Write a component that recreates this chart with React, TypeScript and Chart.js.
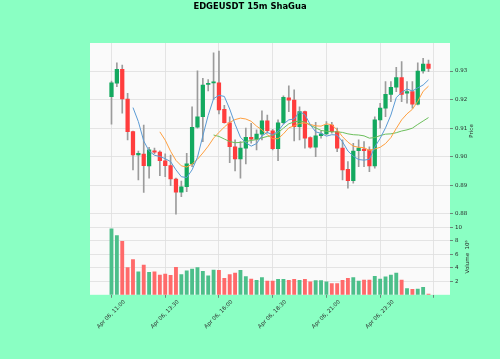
import React, { useEffect, useRef } from 'react';
import { Chart, registerables } from 'chart.js';

Chart.register(...registerables);

const title = 'EDGEUSDT 15m ShaGua';
const tickIndex = [0, 10, 20, 30, 40, 50, 60];
const tickLabels = ['Apr 06, 11:00', 'Apr 06, 13:30', 'Apr 06, 16:00', 'Apr 06, 18:30', 'Apr 06, 21:00', 'Apr 06, 23:30', ''];
const priceTicks = [0.88, 0.89, 0.9, 0.91, 0.92, 0.93];
const volumeTicks = [2, 4, 6, 8, 10];

const opens = [
  0.9210, 0.9257, 0.9306, 0.9202, 0.9088, 0.9006, 0.9009, 0.8968, 0.9021, 0.9016,
  0.8986, 0.8969, 0.8922, 0.8876, 0.8895, 0.8975, 0.9103, 0.9140, 0.9253, 0.9258,
  0.9259, 0.9166, 0.9119, 0.9035, 0.8992, 0.9030, 0.9068, 0.9061, 0.9079, 0.9126,
  0.9091, 0.9028, 0.9119, 0.9206, 0.9198, 0.9105, 0.9158, 0.9067, 0.9033, 0.9074,
  0.9080, 0.9111, 0.9088, 0.9030, 0.8956, 0.8916, 0.9021, 0.9027, 0.9024, 0.8968,
  0.9129, 0.9170, 0.9218, 0.9243, 0.9277, 0.9222, 0.9228, 0.9184, 0.9300, 0.9324,
];
const highs = [
  0.9265, 0.9329, 0.9321, 0.9222, 0.9090, 0.9020, 0.9111, 0.9033, 0.9030, 0.9021,
  0.9010, 0.9006, 0.8925, 0.8915, 0.9012, 0.9175, 0.9301, 0.9274, 0.9270, 0.9364,
  0.9370, 0.9180, 0.9140, 0.9059, 0.9053, 0.9100, 0.9117, 0.9094, 0.9161, 0.9146,
  0.9096, 0.9129, 0.9213, 0.9248, 0.9234, 0.9175, 0.9160, 0.9070, 0.9120, 0.9090,
  0.9123, 0.9120, 0.9100, 0.9059, 0.8983, 0.9047, 0.9059, 0.9053, 0.9035, 0.9140,
  0.9187, 0.9263, 0.9263, 0.9313, 0.9333, 0.9263, 0.9263, 0.9329, 0.9344, 0.9338,
];
const lows = [
  0.9114, 0.9245, 0.9152, 0.9059, 0.8954, 0.8919, 0.8875, 0.8925, 0.9010, 0.8934,
  0.8930, 0.8899, 0.8799, 0.8860, 0.8878, 0.8965, 0.9100, 0.9053, 0.9230, 0.9200,
  0.9150, 0.9117, 0.8979, 0.8950, 0.8925, 0.8975, 0.9047, 0.9024, 0.9059, 0.9082,
  0.9024, 0.8986, 0.9115, 0.9158, 0.9055, 0.9059, 0.9030, 0.9030, 0.9000, 0.9065,
  0.9076, 0.9082, 0.9018, 0.8919, 0.8890, 0.8907, 0.8965, 0.8965, 0.8948, 0.8960,
  0.9100, 0.9140, 0.9193, 0.9228, 0.9193, 0.9187, 0.9170, 0.9181, 0.9292, 0.9298,
];
const closes = [
  0.9259, 0.9306, 0.9202, 0.9088, 0.9006, 0.9012, 0.8969, 0.9024, 0.9016, 0.8986,
  0.8969, 0.8922, 0.8876, 0.8895, 0.8975, 0.9103, 0.9140, 0.9251, 0.9257, 0.9262,
  0.9164, 0.9119, 0.9035, 0.8992, 0.9030, 0.9068, 0.9061, 0.9079, 0.9126, 0.9091,
  0.9028, 0.9119, 0.9208, 0.9198, 0.9105, 0.9158, 0.9065, 0.9033, 0.9073, 0.9080,
  0.9110, 0.9088, 0.9030, 0.8954, 0.8916, 0.9020, 0.9030, 0.9021, 0.8968, 0.9129,
  0.9170, 0.9218, 0.9243, 0.9277, 0.9218, 0.9228, 0.9184, 0.9300, 0.9324, 0.9309,
];
// volume in millions
const volumes = [
  9.75, 8.76, 7.92, 4.02, 5.2, 3.38, 4.41, 3.33, 3.38, 2.93,
  3.08, 2.88, 4.07, 2.98, 3.53, 3.82, 4.02, 3.48, 2.79, 3.67,
  3.63, 2.44, 2.98, 3.23, 3.63, 2.68, 2.34, 2.15, 2.53, 2.04,
  2.04, 2.3, 2.3, 2.15, 2.29, 2.15, 2.29, 1.9, 2.09, 2.09,
  1.9, 1.65, 1.65, 2.15, 2.44, 2.54, 2.04, 2.19, 2.19, 2.74,
  2.34, 2.64, 2.93, 3.23, 2.19, 0.91, 0.81, 0.86, 1.11, 0.12,
];
const ma5 = [
  null, null, null, null,
  0.9172, 0.9123, 0.9055, 0.9020, 0.9005, 0.9001, 0.8993, 0.8983, 0.8954, 0.8930,
  0.8927, 0.8954, 0.8998, 0.9073, 0.9145, 0.9203, 0.9215, 0.9211, 0.9167, 0.9114,
  0.9068, 0.9049, 0.9037, 0.9046, 0.9073, 0.9085, 0.9077, 0.9089, 0.9114, 0.9129,
  0.9132, 0.9158, 0.9147, 0.9112, 0.9087, 0.9082, 0.9072, 0.9077, 0.9076, 0.9052,
  0.9020, 0.9002, 0.8990, 0.8988, 0.8991, 0.9034, 0.9064, 0.9101, 0.9146, 0.9207,
  0.9225, 0.9237, 0.9230, 0.9241, 0.9251, 0.9269,
];
const ma10 = [
  null, null, null, null, null, null, null, null, null,
  0.9087, 0.9058, 0.9019, 0.8987, 0.8968, 0.8964, 0.8974, 0.8991, 0.9013, 0.9037,
  0.9065, 0.9085, 0.9104, 0.9120, 0.9130, 0.9135, 0.9132, 0.9124, 0.9107, 0.9094,
  0.9077, 0.9063, 0.9063, 0.9080, 0.9101, 0.9108, 0.9117, 0.9118, 0.9113, 0.9108,
  0.9107, 0.9115, 0.9112, 0.9094, 0.9070, 0.9051, 0.9037, 0.9033, 0.9032, 0.9022,
  0.9027, 0.9033, 0.9046, 0.9067, 0.9099, 0.9129, 0.9150, 0.9166, 0.9194, 0.9229,
  0.9247,
];
const ma20 = [
  null, null, null, null, null, null, null, null, null, null,
  null, null, null, null, null, null, null, null, null,
  0.9076, 0.9071, 0.9062, 0.9053, 0.9049, 0.9050, 0.9053, 0.9057, 0.9060, 0.9066,
  0.9071, 0.9074, 0.9084, 0.9100, 0.9115, 0.9122, 0.9125, 0.9121, 0.9110, 0.9101,
  0.9092, 0.9089, 0.9087, 0.9087, 0.9085, 0.9080, 0.9077, 0.9076, 0.9073, 0.9065,
  0.9067, 0.9074, 0.9079, 0.9080, 0.9084, 0.9090, 0.9094, 0.9100, 0.9113, 0.9125,
  0.9137,
];

const FONT = 'DejaVu Sans';
const BG = '#8affc3';
const PANEL = '#fafafa';
const GRID = '#dedede';
const UP = '#13a95f';
const DOWN = '#ff3d3d';
const VOL_UP = '#4cbf8a';
const VOL_DOWN = '#ff6a6a';
const WICK = '#9c9c9c';
const TEXT = '#2a2a2a';

export default function App() {
  const ref = useRef<HTMLCanvasElement | null>(null);

  useEffect(() => {
    document.body.style.margin = '0';
    document.body.style.background = BG;
    const canvas = ref.current;
    if (!canvas) return;
    const idx = closes.map((_, i) => i);
    const up = closes.map((c, i) => c >= opens[i]);

    const bgPlugin = {
      id: 'bgPanel',
      beforeDraw(chart: any) {
        const { ctx, chartArea: a, width, height } = chart;
        ctx.save();
        ctx.fillStyle = BG;
        ctx.fillRect(0, 0, width, height);
        ctx.fillStyle = PANEL;
        ctx.fillRect(a.left, a.top, a.right - a.left, a.bottom - a.top);
        ctx.restore();
      },
    };
    const textPlugin = {
      id: 'texts',
      afterDraw(chart: any) {
        const { ctx, width } = chart;
        const y = chart.scales.y;
        const yv = chart.scales.yv;
        ctx.save();
        ctx.fillStyle = '#000';
        ctx.font = `bold 8.4px "${FONT}"`;
        ctx.textAlign = 'center';
        ctx.textBaseline = 'middle';
        ctx.fillText(title, width / 2, 6.8);
        ctx.restore();

        ctx.save();
        ctx.fillStyle = TEXT;
        ctx.font = `5.5px "${FONT}"`;
        ctx.textAlign = 'center';
        ctx.textBaseline = 'middle';
        ctx.translate(y.left + 21.7, (y.top + y.bottom) / 2);
        ctx.rotate(-Math.PI / 2);
        ctx.fillText('Price', 0, 0);
        ctx.restore();

        ctx.save();
        ctx.fillStyle = TEXT;
        ctx.font = `5.5px "${FONT}"`;
        ctx.textAlign = 'center';
        ctx.textBaseline = 'middle';
        ctx.translate(yv.left + 17.3, (yv.top + yv.bottom) / 2);
        ctx.rotate(-Math.PI / 2);
        ctx.fillText('Volume  10\u2076', 0, 0);
        ctx.restore();
      },
    };

    const lineDs = (label: string, arr: (number | null)[], color: string) => ({
      type: 'line' as const,
      label,
      data: idx.filter((i) => arr[i] != null).map((i) => ({ x: i, y: arr[i] })),
      yAxisID: 'y',
      borderColor: color,
      borderWidth: 1,
      pointRadius: 0,
      tension: 0,
      fill: false,
      order: 0,
    });

    const chart = new Chart(canvas, {
      type: 'bar',
      data: {
        datasets: [
          lineDs('MA5', ma5, '#5b9bd5'),
          lineDs('MA10', ma10, '#ffa040'),
          lineDs('MA20', ma20, '#6cbf5c'),
          {
            type: 'bar',
            label: 'Body',
            data: idx.map((i) => ({ x: i, y: [opens[i], closes[i]] })),
            yAxisID: 'y',
            backgroundColor: up.map((u) => (u ? UP : DOWN)),
            barThickness: 3.6,
            grouped: false,
            borderWidth: 0,
            borderSkipped: false,
            order: 2,
          } as any,
          {
            type: 'bar',
            label: 'Wick',
            data: idx.map((i) => ({ x: i, y: [lows[i], highs[i]] })),
            yAxisID: 'y',
            backgroundColor: WICK,
            barThickness: 1,
            grouped: false,
            borderWidth: 0,
            borderSkipped: false,
            order: 3,
          } as any,
          {
            type: 'bar',
            label: 'Volume',
            data: idx.map((i) => ({ x: i, y: volumes[i] })),
            yAxisID: 'yv',
            backgroundColor: up.map((u) => (u ? VOL_UP : VOL_DOWN)),
            barThickness: 3.2,
            grouped: false,
            borderWidth: 0,
            order: 3,
          } as any,
        ],
      },
      options: {
        animation: false,
        responsive: false,
        devicePixelRatio: 1,
        layout: { padding: { left: 90, right: 0, top: 43, bottom: 0 } },
        plugins: {
          legend: { display: false },
          tooltip: { enabled: false },
          title: { display: false },
        },
        scales: {
          x: {
            type: 'linear',
            min: -4,
            max: 63,
            offset: false,
            afterBuildTicks: (s: any) => {
              s.ticks = tickIndex.map((v) => ({ value: v }));
            },
            afterFit: (s: any) => {
              s.height = 64.2;
            },
            ticks: {
              autoSkip: false,
              maxRotation: 45,
              minRotation: 45,
              labelOffset: 13,
              padding: 1,
              color: TEXT,
              font: { family: FONT, size: 5.5 },
              callback: (_v: any, i: number) => tickLabels[i] ?? '',
            },
            grid: { color: GRID, lineWidth: 0.8, offset: false, tickLength: 3, tickColor: '#666', tickWidth: 0.8 },
            border: { display: false },
          },
          y: {
            type: 'linear',
            position: 'right',
            stack: 'panels',
            stackWeight: 176,
            weight: 1,
            min: 0.87825,
            max: 0.9398,
            beginAtZero: false,
            afterBuildTicks: (s: any) => {
              s.ticks = priceTicks.map((v) => ({ value: v }));
            },
            afterFit: (s: any) => {
              s.width = 50;
            },
            ticks: {
              color: TEXT,
              padding: 2,
              font: { family: FONT, size: 5.5 },
              callback: (v: any) => Number(v).toFixed(2),
            },
            grid: { color: GRID, lineWidth: 0.8, tickLength: 3, tickColor: '#666', tickWidth: 0.8 },
            border: { display: false },
          },
          yv: {
            type: 'linear',
            position: 'right',
            stack: 'panels',
            stackWeight: 76,
            weight: 2,
            min: 0,
            max: 11.23,
            afterBuildTicks: (s: any) => {
              s.ticks = volumeTicks.map((v) => ({ value: v }));
            },
            afterFit: (s: any) => {
              s.width = 50;
            },
            ticks: {
              color: TEXT,
              padding: 2,
              font: { family: FONT, size: 5.5 },
              callback: (v: any) => String(v),
            },
            grid: { color: GRID, lineWidth: 0.8, tickLength: 3, tickColor: '#666', tickWidth: 0.8 },
            border: { display: false },
          },
        },
      } as any,
      plugins: [bgPlugin, textPlugin],
    });
    return () => chart.destroy();
  }, []);

  return (
    <div style={{ width: 500, height: 359, background: BG }}>
      <canvas ref={ref} width={500} height={359} style={{ display: 'block', width: 500, height: 359 }} />
    </div>
  );
}
